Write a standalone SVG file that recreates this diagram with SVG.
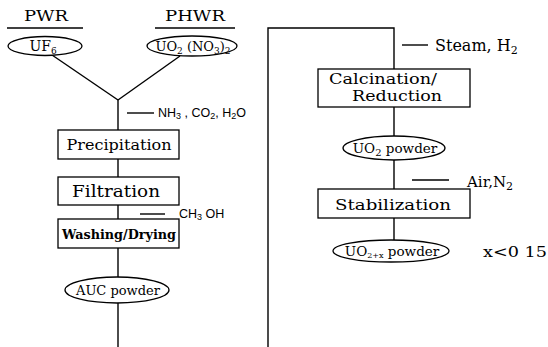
<svg xmlns="http://www.w3.org/2000/svg" width="548" height="347" viewBox="0 0 548 347">
<style>
.ln{stroke:#000;stroke-width:1.4;fill:none}
.bx{stroke:#000;stroke-width:1.3;fill:#fff}
.t{font-family:"DejaVu Serif","Liberation Serif",serif;fill:#000}
.s{font-family:"Liberation Sans","DejaVu Sans",sans-serif;fill:#000}
</style>
<rect width="548" height="347" fill="#fff"/>
<g id="connectors">
<line class="ln" x1="7" y1="28" x2="83" y2="28"/>
<line class="ln" x1="155" y1="28" x2="235" y2="28"/>
<line class="ln" x1="52" y1="55" x2="118" y2="100"/>
<line class="ln" x1="180" y1="56" x2="118" y2="100"/>
<line class="ln" x1="118" y1="100" x2="118" y2="130"/>
<line class="ln" x1="127" y1="113" x2="154" y2="113"/>
<line class="ln" x1="118" y1="159" x2="118" y2="177"/>
<line class="ln" x1="118" y1="205" x2="118" y2="219"/>
<line class="ln" x1="140" y1="214" x2="165" y2="214"/>
<line class="ln" x1="118" y1="248" x2="118" y2="277"/>
<line class="ln" x1="118" y1="303" x2="118" y2="347"/>
<polyline class="ln" points="268,347 268,28 394,28 394,69"/>
<line class="ln" x1="402" y1="45" x2="428" y2="45"/>
<line class="ln" x1="394" y1="107" x2="394" y2="136"/>
<line class="ln" x1="394" y1="160" x2="394" y2="189"/>
<line class="ln" x1="412" y1="180" x2="449" y2="180"/>
<line class="ln" x1="394" y1="218" x2="394" y2="240"/>
</g>
<g id="label-pwr"><text class="t" x="46" y="21" font-size="15" text-anchor="middle" textLength="44" lengthAdjust="spacingAndGlyphs">PWR</text></g>
<g id="label-phwr"><text class="t" x="195" y="21" font-size="15" text-anchor="middle" textLength="60" lengthAdjust="spacingAndGlyphs">PHWR</text></g>
<g id="uf6">
<ellipse class="bx" cx="45" cy="46" rx="37" ry="9.5"/>
<text class="t" x="43" y="51" font-size="14" text-anchor="middle">UF<tspan font-size="9" dy="3">6</tspan></text>
</g>
<g id="uo2no3">
<ellipse class="bx" cx="192" cy="46" rx="45" ry="10"/>
<text class="t" x="193" y="51" font-size="13" text-anchor="middle">UO<tspan font-size="9" dy="3">2</tspan><tspan dy="-3"> (NO</tspan><tspan font-size="9" dy="3">3</tspan><tspan dy="-3">)</tspan><tspan font-size="9" dy="3">2</tspan></text>
</g>
<g id="label-nh3"><text class="s" x="158" y="117" font-size="12.5">NH<tspan font-size="9" dy="2">3</tspan><tspan dy="-2">  ,  CO</tspan><tspan font-size="9" dy="2">2</tspan><tspan dy="-2">,  H</tspan><tspan font-size="9" dy="2">2</tspan><tspan dy="-2">O</tspan></text></g>
<g id="precipitation">
<rect class="bx" x="58" y="130" width="121" height="29"/>
<text class="t" x="119" y="150" font-size="15.5" text-anchor="middle" textLength="105" lengthAdjust="spacingAndGlyphs">Precipitation</text>
</g>
<g id="filtration">
<rect class="bx" x="58" y="177" width="121" height="28"/>
<text class="t" x="116" y="197" font-size="17" text-anchor="middle" textLength="88" lengthAdjust="spacingAndGlyphs">Filtration</text>
</g>
<g id="label-ch3oh"><text class="s" x="179" y="218" font-size="12.5">CH<tspan font-size="9" dy="2">3</tspan><tspan dy="-2"> OH</tspan></text></g>
<g id="washing">
<rect class="bx" x="58" y="219" width="121" height="29"/>
<text class="t" x="119" y="239" font-size="13" font-weight="bold" text-anchor="middle" textLength="114" lengthAdjust="spacingAndGlyphs">Washing/Drying</text>
</g>
<g id="auc">
<ellipse class="bx" cx="117" cy="290" rx="52" ry="13"/>
<text class="t" x="118" y="295" font-size="13" text-anchor="middle" textLength="84" lengthAdjust="spacingAndGlyphs">AUC powder</text>
</g>
<g id="label-steam"><text class="t" x="435" y="51" font-size="16">Steam, H<tspan font-size="11" dy="3">2</tspan></text></g>
<g id="calcination">
<rect class="bx" x="318" y="69" width="152" height="38"/>
<text class="t" x="383" y="84" font-size="15" text-anchor="middle" textLength="108" lengthAdjust="spacingAndGlyphs">Calcination/</text>
<text class="t" x="397" y="101" font-size="15" text-anchor="middle" textLength="90" lengthAdjust="spacingAndGlyphs">Reduction</text>
</g>
<g id="uo2powder">
<ellipse class="bx" cx="394" cy="148" rx="51" ry="12"/>
<text class="t" x="395" y="153" font-size="13.5" text-anchor="middle">UO<tspan font-size="10" dy="3">2</tspan><tspan dy="-3"> powder</tspan></text>
</g>
<g id="label-air"><text class="t" x="467" y="187" font-size="15">Air,N<tspan font-size="11" dy="3">2</tspan></text></g>
<g id="stabilization">
<rect class="bx" x="318" y="189" width="152" height="29"/>
<text class="t" x="393" y="210" font-size="15" text-anchor="middle" textLength="116" lengthAdjust="spacingAndGlyphs">Stabilization</text>
</g>
<g id="uo2xpowder">
<ellipse class="bx" cx="391" cy="251" rx="58" ry="11"/>
<text class="t" x="392" y="256" font-size="13.5" text-anchor="middle">UO<tspan font-size="8" dy="2">2+x</tspan><tspan dy="-2"> powder</tspan></text>
</g>
<g id="label-x"><text class="t" x="483" y="257" font-size="15" textLength="64" lengthAdjust="spacingAndGlyphs">x&lt;0 15</text></g>
</svg>
